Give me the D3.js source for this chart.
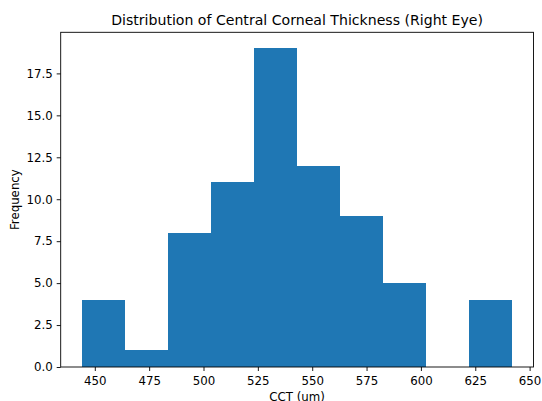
<!DOCTYPE html>
<html>
<head>
<meta charset="utf-8">
<script src="https://cdn.jsdelivr.net/npm/d3@7"></script>
<style>
  body { margin: 0; background: #fff; }
  text { font-family: "DejaVu Sans", sans-serif; fill: #000; }
</style>
</head>
<body>
<div id="chart"></div>
<script>
// histogram of CCT values (10 bins)
var binEdges = [444.2, 464.0, 483.7, 503.5, 523.3, 543.1, 562.8, 582.6, 602.4, 622.1, 641.9];
var counts = [4, 1, 8, 11, 19, 12, 9, 5, 0, 4];
var xTicks = [450, 475, 500, 525, 550, 575, 600, 625, 650];
var yTicks = [0, 2.5, 5, 7.5, 10, 12.5, 15, 17.5];

var svgWidth = 542;
var svgHeight = 401;

var margin = {
    top: 32.3,
    right: 8.5,
    bottom: 34,
    left: 60.7
};

var width = svgWidth - margin.left - margin.right;
var height = svgHeight - margin.top - margin.bottom;

var svg = d3.select("#chart")
    .append("svg")
    .attr("width", svgWidth)
    .attr("height", svgHeight);

var chartGroup = svg.append("g")
    .attr("transform", `translate(${margin.left}, ${margin.top})`);

// matplotlib style 5% margins
var xMin = binEdges[0], xMax = binEdges[binEdges.length - 1];
var pad = (xMax - xMin) * 0.05;
var xScale = d3.scaleLinear()
    .domain([xMin - pad, xMax + pad])
    .range([0, width]);

var yScale = d3.scaleLinear()
    .domain([0, d3.max(counts) * 1.05])
    .range([height, 0]);

var bins = counts.map((c, i) => ({ x0: binEdges[i], x1: binEdges[i + 1], n: c }));

chartGroup.selectAll("rect")
    .data(bins)
    .enter()
    .append("rect")
    .attr("x", d => xScale(d.x0))
    .attr("width", d => xScale(d.x1) - xScale(d.x0))
    .attr("y", d => yScale(d.n))
    .attr("height", d => yScale(0) - yScale(d.n))
    .attr("fill", "#1f77b4")
    .attr("shape-rendering", "crispEdges");

var xAxis = d3.axisBottom(xScale)
    .tickValues(xTicks)
    .tickFormat(d3.format("d"))
    .tickSize(4)
    .tickPadding(5.5)
    .tickSizeOuter(0);

var yAxis = d3.axisLeft(yScale)
    .tickValues(yTicks)
    .tickFormat(d3.format(".1f"))
    .tickSize(4)
    .tickPadding(4)
    .tickSizeOuter(0);

var gx = chartGroup.append("g")
    .attr("transform", `translate(0, ${height})`)
    .call(xAxis);

var gy = chartGroup.append("g")
    .call(yAxis);

[gx, gy].forEach(g => {
    g.selectAll("text").style("font-size", "11.8px").attr("fill", "#000");
    g.selectAll("line").attr("stroke", "#000").attr("stroke-width", 0.9);
    g.select(".domain").remove();
});

// frame
chartGroup.append("rect")
    .attr("x", 0)
    .attr("y", 0)
    .attr("width", width)
    .attr("height", height)
    .attr("fill", "none")
    .attr("stroke", "#000")
    .attr("stroke-width", 0.9);

svg.append("text")
    .attr("x", margin.left + width / 2)
    .attr("y", 24.5)
    .attr("text-anchor", "middle")
    .style("font-size", "14.1px")
    .text("Distribution of Central Corneal Thickness (Right Eye)");

svg.append("text")
    .attr("x", margin.left + width / 2)
    .attr("y", 401)
    .attr("text-anchor", "middle")
    .style("font-size", "11.8px")
    .text("CCT (um)");

svg.append("text")
    .attr("transform", `translate(19, ${margin.top + height / 2}) rotate(-90)`)
    .attr("text-anchor", "middle")
    .style("font-size", "11.8px")
    .text("Frequency");
</script>
</body>
</html>
